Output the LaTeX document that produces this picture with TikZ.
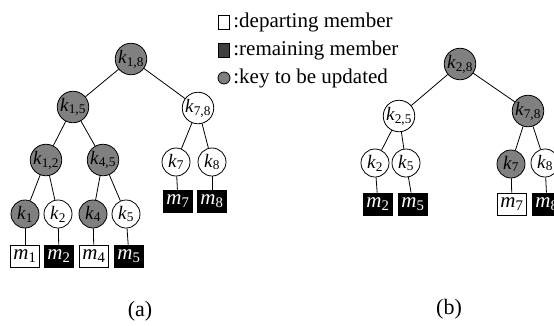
\documentclass[tikz,border=0pt]{standalone}
\usepackage{fontspec}
\setmainfont{Liberation Serif}

\newcommand{\kx}[1]{\textit{k}\textsubscript{#1}}
\newcommand{\mx}[1]{\textit{m}\textsubscript{#1}}

\begin{document}
\begin{tikzpicture}[x=1pt, y=-1pt,
    key/.style={draw, circle, thick, minimum size=28pt, inner sep=0pt, font=\fontsize{19}{19}\selectfont},
    upd/.style={key, fill=black!50},
    leave/.style={draw, thick, rectangle, minimum width=29pt, minimum height=22pt, inner sep=0pt, font=\fontsize{21}{21}\selectfont},
    stay/.style={leave, fill=black, text=white},
    legtext/.style={anchor=west, inner sep=0pt, font=\fontsize{21}{21}\selectfont},
    every path/.style={thick}]
\useasboundingbox (0,0) rectangle (554,325);

% legend
\node[draw, minimum width=11pt, minimum height=14pt, inner sep=0pt] (LD) at (224,22) {};
\node[legtext] (TD) at (233,22) {:departing member};
\node[draw, fill=black!75, minimum width=11pt, minimum height=14pt, inner sep=0pt] (LR) at (224,50) {};
\node[legtext] (TR) at (233,50) {:remaining member};
\node[draw, circle, fill=black!50, minimum size=12pt, inner sep=0pt] (LU) at (224,78) {};
\node[legtext] (TU) at (233,78) {:key to be updated};

% tree (a)
\node[upd] (K18) at (131,59) {\kx{1,8}};
\node[upd] (K15) at (73,107) {\kx{1,5}};
\node[key] (K78) at (198,108) {\kx{7,8}};
\node[upd] (K12) at (46,160) {\kx{1,2}};
\node[upd] (K45) at (103,160) {\kx{4,5}};
\node[key] (K7) at (176,162) {\kx{7}};
\node[key] (K8) at (212,162) {\kx{8}};
\node[upd] (K1) at (25,214) {\kx{1}};
\node[key] (K2) at (58,214) {\kx{2}};
\node[upd] (K4) at (93,214) {\kx{4}};
\node[key] (K5) at (126,214) {\kx{5}};
\node[leave] (M1) at (25,256) {\mx{1}};
\node[stay] (M2) at (59,256) {\mx{2}};
\node[leave] (M4) at (94,256) {\mx{4}};
\node[stay] (M5) at (129,256) {\mx{5}};
\node[stay] (M7) at (178,201) {\mx{7}};
\node[stay] (M8) at (212,201) {\mx{8}};
\draw (K18) -- (K15);
\draw (K18) -- (K78);
\draw (K15) -- (K12);
\draw (K15) -- (K45);
\draw (K78) -- (K7);
\draw (K78) -- (K8);
\draw (K12) -- (K1);
\draw (K12) -- (K2);
\draw (K45) -- (K4);
\draw (K45) -- (K5);
\draw (K1) -- (M1);
\draw (K2) -- (M2);
\draw (K4) -- (M4);
\draw (K5) -- (M5);
\draw (K7) -- (M7);
\draw (K8) -- (M8);
\node[font=\fontsize{22}{22}\selectfont] (CA) at (140,311) {(a)};

% tree (b)
\node[upd] (B28) at (460,64) {\kx{2,8}};
\node[key] (B25) at (399,116) {\kx{2,5}};
\node[upd] (B78) at (528,111) {\kx{7,8}};
\node[key] (B2) at (375,163) {\kx{2}};
\node[key] (B5) at (406,163) {\kx{5}};
\node[upd] (B7) at (511,164) {\kx{7}};
\node[key] (B8) at (545,163) {\kx{8}};
\node[stay] (N2) at (378,204) {\mx{2}};
\node[stay] (N5) at (413,204) {\mx{5}};
\node[leave] (N7) at (512,204) {\mx{7}};
\node[stay] (N8) at (547,204) {\mx{8}};
\draw (B28) -- (B25);
\draw (B28) -- (B78);
\draw (B25) -- (B2);
\draw (B25) -- (B5);
\draw (B78) -- (B7);
\draw (B78) -- (B8);
\draw (B2) -- (N2);
\draw (B5) -- (N5);
\draw (B7) -- (N7);
\draw (B8) -- (N8);
\node[font=\fontsize{22}{22}\selectfont] (CB) at (449,309) {(b)};
\end{tikzpicture}
\end{document}
